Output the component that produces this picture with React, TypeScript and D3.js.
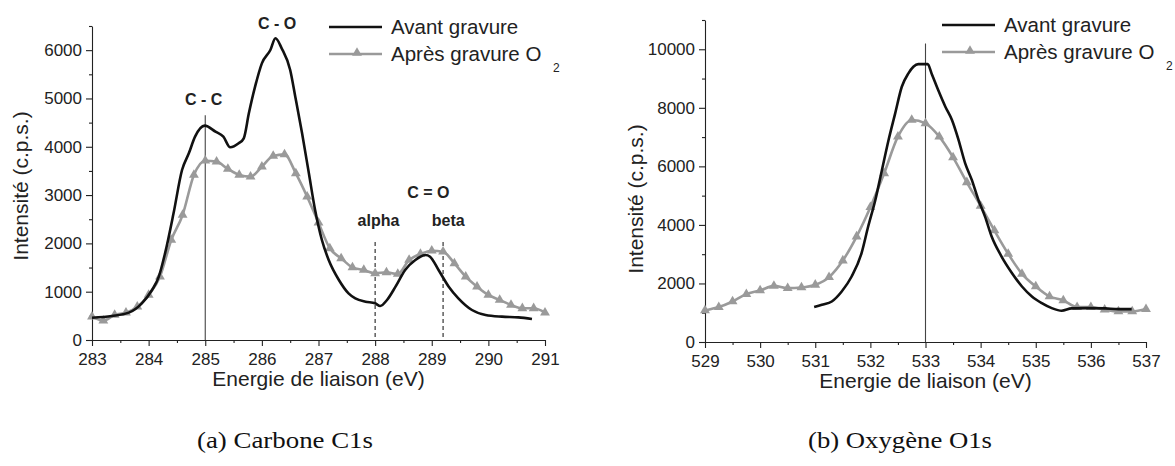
import React, { useEffect, useRef } from "react";
import * as d3 from "d3";

// Carbone C1s, avant gravure (eV, c.p.s.)
const c1sAvantE = [283.0, 283.35, 283.65, 283.88, 284.06, 284.18, 284.29, 284.44, 284.59, 284.71, 284.82, 284.99, 285.18, 285.32, 285.44, 285.59, 285.68, 285.77, 285.88, 286.0, 286.15, 286.24, 286.35, 286.5, 286.59, 286.71, 286.83, 286.94, 287.06, 287.18, 287.36, 287.53, 287.65, 287.83, 288.0, 288.09, 288.21, 288.36, 288.53, 288.71, 288.89, 288.97, 289.12, 289.3, 289.47, 289.71, 289.95, 290.24, 290.53, 290.77];
const c1sAvantI = [462, 497, 566, 759, 1035, 1311, 1794, 2622, 3519, 3864, 4209, 4437, 4313, 4209, 3990, 4071, 4175, 4692, 5244, 5727, 6003, 6245, 6038, 5589, 5037, 4278, 3450, 2691, 2070, 1656, 1242, 966, 863, 794, 759, 704, 828, 1104, 1449, 1656, 1760, 1725, 1449, 1104, 863, 621, 518, 483, 469, 435];

// Carbone C1s, après gravure O2 (pas de 0.2 eV)
const c1sApresE = [283.0, 283.2, 283.4, 283.6, 283.8, 284.0, 284.2, 284.4, 284.6, 284.8, 285.0, 285.2, 285.4, 285.6, 285.8, 286.0, 286.2, 286.4, 286.6, 286.8, 287.0, 287.2, 287.4, 287.6, 287.8, 288.0, 288.2, 288.4, 288.6, 288.8, 289.0, 289.2, 289.4, 289.6, 289.8, 290.0, 290.2, 290.4, 290.6, 290.8, 291.0];
const c1sApresI = [483, 400, 518, 566, 690, 932, 1311, 2070, 2588, 3416, 3712, 3692, 3540, 3416, 3381, 3588, 3809, 3843, 3450, 2966, 2428, 1898, 1691, 1504, 1449, 1380, 1401, 1366, 1656, 1780, 1849, 1828, 1587, 1311, 1104, 932, 828, 725, 656, 656, 566];

// Oxygène O1s, avant gravure
const o1sAvantE = [530.98, 531.12, 531.3, 531.48, 531.66, 531.84, 531.96, 532.09, 532.21, 532.33, 532.45, 532.57, 532.69, 532.78, 532.87, 533.04, 533.11, 533.23, 533.36, 533.48, 533.6, 533.72, 533.84, 533.96, 534.08, 534.2, 534.38, 534.57, 534.75, 534.93, 535.11, 535.29, 535.47, 535.65, 535.96, 536.26, 536.5, 536.74];
const o1sAvantI = [1192, 1272, 1385, 1726, 2238, 3034, 3944, 4853, 5876, 6900, 7810, 8720, 9175, 9402, 9493, 9493, 9175, 8606, 8038, 7583, 6900, 6104, 5537, 4853, 4284, 3602, 2920, 2352, 1897, 1556, 1329, 1158, 1067, 1147, 1158, 1147, 1124, 1124];

// Oxygène O1s, après gravure O2 (pas de 0.25 eV)
const o1sApresE = [529.0, 529.25, 529.5, 529.75, 530.0, 530.25, 530.5, 530.75, 531.0, 531.25, 531.5, 531.75, 532.0, 532.25, 532.5, 532.75, 533.0, 533.25, 533.5, 533.75, 534.0, 534.25, 534.5, 534.75, 535.0, 535.25, 535.5, 535.75, 536.0, 536.25, 536.5, 536.75, 537.0];
const o1sApresI = [1079, 1192, 1385, 1635, 1760, 1919, 1840, 1862, 1954, 2215, 2783, 3602, 4603, 5763, 7014, 7583, 7470, 7014, 6309, 5456, 4649, 3808, 3011, 2329, 1897, 1556, 1420, 1192, 1192, 1101, 1045, 1045, 1124];

const c1sXTicks = [283, 284, 285, 286, 287, 288, 289, 290, 291];
const c1sYTicks = [0, 1000, 2000, 3000, 4000, 5000, 6000];
const o1sXTicks = [529, 530, 531, 532, 533, 534, 535, 536, 537];
const o1sYTicks = [0, 2000, 4000, 6000, 8000, 10000];

const c1sRefLines = [
  { x: 285, top: 4650, dashed: false },
  { x: 288, top: 2030, dashed: true },
  { x: 289.2, top: 2030, dashed: true },
];
const o1sRefLines = [{ x: 533, top: 10200, dashed: false }];

const c1sLabels = [
  { text: "C - O", x: 286.27, y: 6440 },
  { text: "C - C", x: 284.97, y: 4860 },
  { text: "C = O", x: 288.94, y: 2940 },
  { text: "alpha", x: 288.06, y: 2360 },
  { text: "beta", x: 289.29, y: 2360 },
];

const legendNames = ["Avant gravure", "Après gravure O"];
const captions = ["(a) Carbone C1s", "(b) Oxygène O1s"];

const SANS = "'Liberation Sans', Arial, sans-serif";
const SERIF = "'Liberation Serif', 'Times New Roman', serif";

type PanelCfg = {
  avantE: number[];
  avantI: number[];
  apresE: number[];
  apresI: number[];
  xDomain: [number, number];
  yDomain: [number, number];
  xRange: [number, number];
  yRange: [number, number];
  xTicks: number[];
  yTicks: number[];
  yMinor: number;
  refLines: { x: number; top: number; dashed: boolean }[];
  labels: { text: string; x: number; y: number }[];
  yTitleX: number;
  yTitleY: number;
  xTitleY: number;
  legendX: number;
  legendY: number;
  caption: string;
  captionX: number;
  captionW: number;
};

function drawPanel(svg: d3.Selection<SVGSVGElement, unknown, null, undefined>, cfg: PanelCfg) {
  const x = d3.scaleLinear().domain(cfg.xDomain).range(cfg.xRange);
  const y = d3.scaleLinear().domain(cfg.yDomain).range(cfg.yRange);
  const g = svg.append("g");

  const minorX = d3.range(cfg.xDomain[0], cfg.xDomain[1] + 1e-6, 0.5).filter((v) => !cfg.xTicks.includes(v));
  const minorY = d3.range(cfg.yDomain[0], cfg.yDomain[1] + 1e-6, cfg.yMinor).filter((v) => !cfg.yTicks.includes(v));

  // axes
  const xAxis = g
    .append("g")
    .attr("transform", `translate(0,${cfg.yRange[0]})`)
    .call(d3.axisBottom(x).tickValues(cfg.xTicks).tickSize(6).tickSizeOuter(0).tickPadding(7).tickFormat(d3.format("d")));
  g.append("g")
    .attr("transform", `translate(0,${cfg.yRange[0]})`)
    .call(d3.axisBottom(x).tickValues(minorX).tickSize(3).tickSizeOuter(0).tickFormat(() => ""))
    .select(".domain")
    .remove();
  const yAxis = g
    .append("g")
    .attr("transform", `translate(${cfg.xRange[0]},0)`)
    .call(d3.axisLeft(y).tickValues(cfg.yTicks).tickSize(6).tickSizeOuter(0).tickPadding(4).tickFormat(d3.format("d")));
  g.append("g")
    .attr("transform", `translate(${cfg.xRange[0]},0)`)
    .call(d3.axisLeft(y).tickValues(minorY).tickSize(3).tickSizeOuter(0).tickFormat(() => ""))
    .select(".domain")
    .remove();

  g.selectAll(".domain, .tick line").attr("stroke", "#222").attr("stroke-width", 1.1);
  [xAxis, yAxis].forEach((a) =>
    a.selectAll("text").attr("font-family", SANS).attr("font-size", 17).attr("fill", "#222")
  );

  // reference lines
  g.selectAll(".ref")
    .data(cfg.refLines)
    .enter()
    .append("line")
    .attr("x1", (d) => x(d.x))
    .attr("x2", (d) => x(d.x))
    .attr("y1", (d) => y(d.top))
    .attr("y2", y(0))
    .attr("stroke", (d) => (d.dashed ? "#222" : "#444"))
    .attr("stroke-width", 1.1)
    .attr("stroke-dasharray", (d) => (d.dashed ? "4,3" : null));

  const line = d3
    .line<[number, number]>()
    .x((d) => x(d[0]))
    .y((d) => y(d[1]));

  const apres = cfg.apresE.map((e, i) => [e, cfg.apresI[i]] as [number, number]);
  const avant = cfg.avantE.map((e, i) => [e, cfg.avantI[i]] as [number, number]);

  g.append("path")
    .datum(apres)
    .attr("d", line.curve(d3.curveMonotoneX))
    .attr("fill", "none")
    .attr("stroke", "#9a9a9a")
    .attr("stroke-width", 2.6);

  g.selectAll(".tri")
    .data(apres)
    .enter()
    .append("path")
    .attr("d", d3.symbol(d3.symbolTriangle, 42)()!)
    .attr("transform", (d) => `translate(${x(d[0])},${y(d[1])})`)
    .attr("fill", "#9a9a9a");

  g.append("path")
    .datum(avant)
    .attr("d", line.curve(d3.curveMonotoneX))
    .attr("fill", "none")
    .attr("stroke", "#111")
    .attr("stroke-width", 2.6);

  // annotations
  g.selectAll(".lab")
    .data(cfg.labels)
    .enter()
    .append("text")
    .attr("x", (d) => x(d.x))
    .attr("y", (d) => y(d.y))
    .attr("text-anchor", "middle")
    .attr("font-family", SANS)
    .attr("font-weight", "bold")
    .attr("font-size", 16)
    .attr("fill", "#222")
    .text((d) => d.text);

  // titles
  g.append("text")
    .attr("transform", `translate(${cfg.yTitleX},${cfg.yTitleY}) rotate(-90)`)
    .attr("text-anchor", "middle")
    .attr("font-family", SANS)
    .attr("font-size", 21)
    .attr("fill", "#222")
    .text("Intensité (c.p.s.)");
  g.append("text")
    .attr("x", (cfg.xRange[0] + cfg.xRange[1]) / 2)
    .attr("y", cfg.xTitleY)
    .attr("text-anchor", "middle")
    .attr("font-family", SANS)
    .attr("font-size", 21)
    .attr("fill", "#222")
    .text("Energie de liaison (eV)");

  // legend
  const lg = g.append("g").attr("transform", `translate(${cfg.legendX},${cfg.legendY})`);
  lg.append("line").attr("x1", 0).attr("x2", 53).attr("y1", 0).attr("y2", 0).attr("stroke", "#111").attr("stroke-width", 2.6);
  lg.append("line").attr("x1", 0).attr("x2", 53).attr("y1", 27).attr("y2", 27).attr("stroke", "#9a9a9a").attr("stroke-width", 2.6);
  lg.append("path").attr("d", d3.symbol(d3.symbolTriangle, 42)()!).attr("transform", "translate(28,26)").attr("fill", "#9a9a9a");
  lg.selectAll(".lt")
    .data(legendNames)
    .enter()
    .append("text")
    .attr("x", 62)
    .attr("y", (_, i) => i * 27 + 7)
    .attr("font-family", SANS)
    .attr("font-size", 20.5)
    .attr("fill", "#222")
    .text((d) => d);
  lg.append("text")
    .attr("x", 224)
    .attr("y", 45)
    .attr("font-family", SANS)
    .attr("font-size", 12)
    .attr("fill", "#222")
    .text("2");

  svg
    .append("text")
    .attr("x", cfg.captionX - cfg.captionW / 2)
    .attr("y", 448)
    .attr("font-family", SERIF)
    .attr("font-size", 23)
    .attr("textLength", cfg.captionW)
    .attr("lengthAdjust", "spacingAndGlyphs")
    .attr("fill", "#111")
    .text(cfg.caption);
}

export default function App() {
  const ref = useRef<SVGSVGElement>(null);

  useEffect(() => {
    const svg = d3.select(ref.current!);
    svg.selectAll("*").remove();

    drawPanel(svg, {
      avantE: c1sAvantE,
      avantI: c1sAvantI,
      apresE: c1sApresE,
      apresI: c1sApresI,
      xDomain: [283, 291],
      yDomain: [0, 6500],
      xRange: [92, 545],
      yRange: [340, 26],
      xTicks: c1sXTicks,
      yTicks: c1sYTicks,
      yMinor: 500,
      refLines: c1sRefLines,
      labels: c1sLabels,
      yTitleX: 28,
      yTitleY: 186,
      xTitleY: 386,
      legendX: 329,
      legendY: 27,
      caption: captions[0],
      captionX: 285,
      captionW: 176,
    });

    drawPanel(svg, {
      avantE: o1sAvantE,
      avantI: o1sAvantI,
      apresE: o1sApresE,
      apresI: o1sApresI,
      xDomain: [529, 537],
      yDomain: [0, 11000],
      xRange: [705, 1146],
      yRange: [342, 20],
      xTicks: o1sXTicks,
      yTicks: o1sYTicks,
      yMinor: 1000,
      refLines: o1sRefLines,
      labels: [],
      yTitleX: 643,
      yTitleY: 199,
      xTitleY: 388,
      legendX: 942,
      legendY: 25,
      caption: captions[1],
      captionX: 900,
      captionW: 184,
    });
  }, []);

  return (
    <svg
      ref={ref}
      width={1175}
      height={466}
      style={{ position: "absolute", left: 0, top: 0, background: "#fff" }}
    />
  );
}
